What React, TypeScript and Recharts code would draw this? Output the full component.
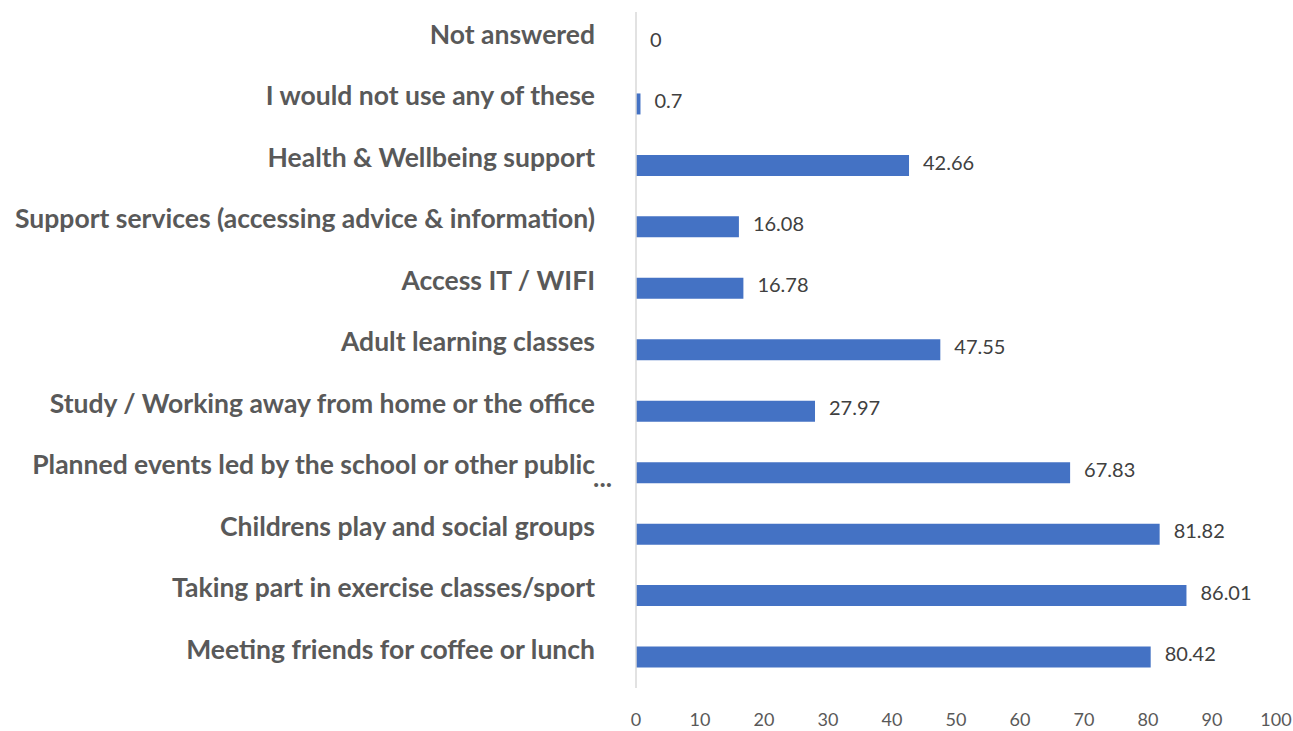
import React from "react";
import { BarChart, Bar, XAxis, YAxis, LabelList } from "recharts";

const categories = [
  "Not answered",
  "I would not use any of these",
  "Health & Wellbeing support",
  "Support services (accessing advice & information)",
  "Access IT / WIFI",
  "Adult learning classes",
  "Study / Working away from home or the office",
  "Planned events led by the school or other public ...",
  "Childrens play and social groups",
  "Taking part in exercise classes/sport",
  "Meeting friends for coffee or lunch",
];

const values = [0, 0.7, 42.66, 16.08, 16.78, 47.55, 27.97, 67.83, 81.82, 86.01, 80.42];

const xTicks = [0, 10, 20, 30, 40, 50, 60, 70, 80, 90, 100];

const data = categories.map((name, i) => ({ name, value: values[i] }));

const FONT = "Lato, 'Open Sans', sans-serif";

function CategoryTick(props: any) {
  const { x, y, payload } = props;
  const label: string = payload.value;
  const cut = label.endsWith(" ...");
  const main = cut ? label.slice(0, -4) : label;
  return (
    <g>
      <text
        x={x}
        y={y - 8}
        dy="0.35em"
        textAnchor="end"
        fill="#595959"
        fontSize={26.5}
        fontWeight="bold"
        fontFamily={FONT}
      >
        {main}
      </text>
      {cut && (
        <text
          x={x + 17}
          y={y + 5}
          dy="0.35em"
          textAnchor="end"
          fill="#595959"
          fontSize={26.5}
          fontWeight="bold"
          fontFamily={FONT}
        >
          ...
        </text>
      )}
    </g>
  );
}

export default function App() {
  return (
    <div style={{ position: "absolute", left: 0, top: 0, width: 1293, height: 731, background: "#fff" }}>
      <BarChart
        width={1293}
        height={731}
        data={data}
        layout="vertical"
        margin={{ top: 12, right: 17, left: 0, bottom: 13 }}
      >
        <XAxis
          type="number"
          domain={[0, 100]}
          ticks={xTicks}
          axisLine={false}
          tickLine={false}
          tickMargin={19}
          height={30}
          tick={{ fill: "#595959", fontSize: 18, fontFamily: FONT }}
        />
        <YAxis
          type="category"
          dataKey="name"
          width={636}
          axisLine={{ stroke: "#D9D9D9", strokeWidth: 1.5 }}
          tickLine={false}
          tickMargin={35}
          interval={0}
          tick={<CategoryTick />}
        />
        <Bar dataKey="value" fill="#4472C4" barSize={21} minPointSize={0.01} isAnimationActive={false}>
          <LabelList
            dataKey="value"
            position="right"
            offset={14}
            fill="#404040"
            fontSize={20}
            fontFamily={FONT}
            dy={-3}
          />
        </Bar>
      </BarChart>
    </div>
  );
}
